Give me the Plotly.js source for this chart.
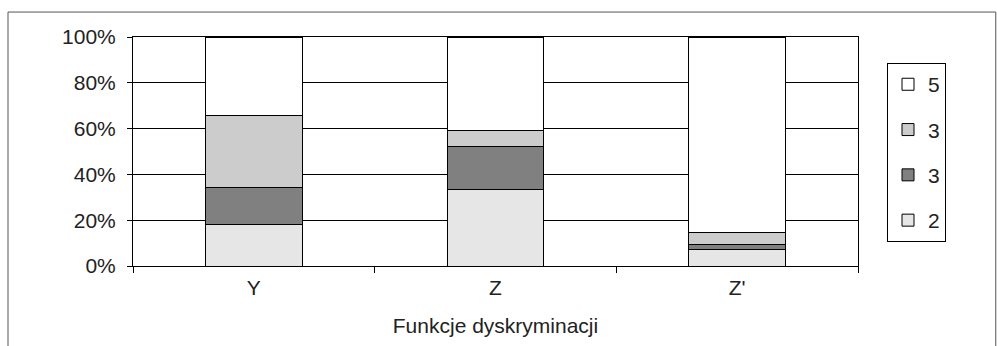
<!DOCTYPE html>
<html><head><meta charset="utf-8">
<script src="https://cdn.plot.ly/plotly-3.0.1.min.js"></script>
<style>body{margin:0;background:#fff}#c{width:997px;height:346px}</style>
</head><body><div id="c"></div>
<script>
const categories = ["Y", "Z", "Z'"];
const seriesNames = ["2", "3", "3", "5"];
const v2 = [18.0, 33.2, 7.4];
const v3dark = [16.2, 19.2, 2.2];
const v3light = [31.4, 6.6, 4.9];
const v5 = [34.4, 41.0, 85.5];
const yTickVals = [0, 20, 40, 60, 80, 100];
const yTickText = ["0%", "20%", "40%", "60%", "80%", "100%"];
const xTitle = "Funkcje dyskryminacji";

const values = [v2, v3dark, v3light, v5];
const colors = ["#e6e6e6", "#808080", "#cccccc", "#ffffff"];
const traces = values.map((v, i) => ({
  type: "bar", x: categories, y: v, name: seriesNames[i],
  legendgroup: "g" + i, legendrank: 1000 - i,
  marker: {color: colors[i], line: {color: "#000", width: 1}},
  hoverinfo: "skip"
}));

const font = {family: "Liberation Sans, Arial, sans-serif", size: 21, color: "#222"};
const layout = {
  width: 997, height: 346,
  margin: {l: 133, r: 139, t: 37, b: 80},
  paper_bgcolor: "#fff", plot_bgcolor: "#fff",
  barmode: "stack", bargap: 0.6,
  font: font,
  showlegend: true,
  legend: {x: 1.04, y: 0.886, xanchor: "left", yanchor: "top",
    bordercolor: "#000", borderwidth: 1, bgcolor: "#fff",
    traceorder: "grouped", tracegroupgap: 15, font: font, itemwidth: 30},
  xaxis: {type: "category", showline: true, linecolor: "#000", linewidth: 1, mirror: true,
    ticks: "outside", ticklen: 6, tickcolor: "#000", tickson: "boundaries",
    tickfont: font, fixedrange: true, ticklabelstandoff: 3,
    title: {text: xTitle, font: font, standoff: 20}},
  yaxis: {range: [0, 100], tickvals: yTickVals, ticktext: yTickText,
    showline: true, linecolor: "#000", linewidth: 1, mirror: true,
    ticks: "outside", ticklen: 5, tickcolor: "#000", ticklabelstandoff: 7,
    showgrid: true, gridcolor: "#000", gridwidth: 1, zeroline: false,
    tickfont: font, fixedrange: true},
  shapes: [{type: "rect", xref: "paper", yref: "paper",
    x0: -0.1724, x1: 1.19, y0: -0.45, y1: 1.109,
    line: {color: "#555", width: 1}, layer: "below"}]
};
Plotly.newPlot("c", traces, layout, {displayModeBar: false, staticPlot: true});
</script></body></html>
